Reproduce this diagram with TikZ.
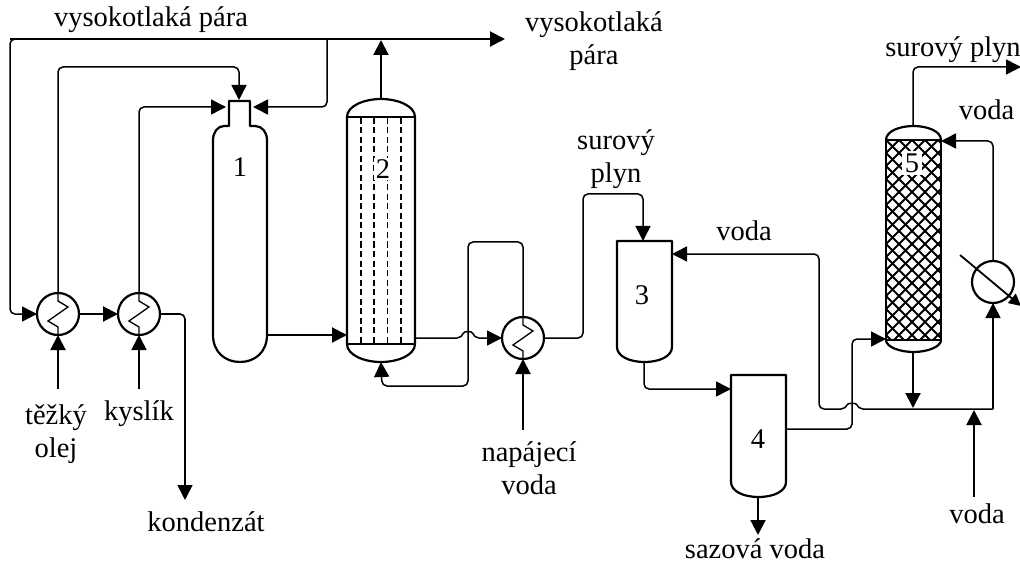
\documentclass[tikz,border=0pt]{standalone}
\usepackage{fontspec}
\setmainfont{Liberation Serif}
\usetikzlibrary{arrows.meta,calc}

\begin{document}
\begin{tikzpicture}[
    x=1pt,y=-1pt,
    every node/.style={font=\fontsize{28.5}{33}\selectfont,align=center,inner sep=0pt},
    wall/.style={line width=2.2pt,line join=round},
    flow/.style={line width=1.5pt,rounded corners=5pt},
    feed/.style={flow,line width=2pt,-{Triangle[length=15pt,width=15pt]}},
    pipe/.style={flow,-{Triangle[length=15pt,width=15pt]}},
    exchanger/.style={circle,draw,line width=2.2pt,minimum size=42pt,inner sep=0pt,outer sep=0pt}
]
\useasboundingbox (0,0) rectangle (1020,564);

% vessels
\draw[wall] (229,126) -- (229,101) -- (250,101) -- (250,126) -- (255,126)
  .. controls (262,126) and (267,132) .. (267,140) -- (267,335)
  .. controls (267,352) and (255,362) .. (240,362)
  .. controls (225,362) and (213,352) .. (213,335) -- (213,140)
  .. controls (213,132) and (218,126) .. (224,126) -- cycle;
\draw[wall] (347,117) .. controls (347,106) and (364,99) .. (381,99)
  .. controls (398,99) and (415,106) .. (415,117) -- (415,344)
  .. controls (415,355) and (398,362) .. (381,362)
  .. controls (364,362) and (347,355) .. (347,344) -- cycle;
\draw[wall] (347,117) -- (415,117) (347,344) -- (415,344);
\foreach \dashx in {361,374,387.5,401}
  \draw[line width=1.8pt,dash pattern=on 6pt off 3.5pt] (\dashx,118) -- (\dashx,343);
\draw[wall] (617,241) -- (672,241) -- (672,347)
  .. controls (672,356) and (660,362) .. (644.5,362)
  .. controls (629,362) and (617,356) .. (617,347) -- cycle;
\draw[wall] (731,375) -- (786,375) -- (786,482)
  .. controls (786,491) and (774,497) .. (758.5,497)
  .. controls (743,497) and (731,491) .. (731,482) -- cycle;

% packed column
\begin{scope}
\clip (886,140) rectangle (941,340);
\foreach \hatch in {-16,...,5} {
  \draw[line width=1.8pt] ({886+13*\hatch},140) -- ++(200,200);
}
\foreach \hatch in {0,...,20} {
  \draw[line width=1.8pt] ({886+13*\hatch},140) -- ++(-200,200);
}
\end{scope}
\draw[wall,line width=2.8pt] (886,140) rectangle (941,340);
\draw[wall] (886,140) .. controls (886,131) and (900,126) .. (913.5,126)
  .. controls (927,126) and (941,131) .. (941,140);
\draw[wall] (886,340) .. controls (886,347) and (900,352) .. (913.5,352)
  .. controls (927,352) and (941,347) .. (941,340);

% exchangers
\node[exchanger] (exch1) at (58,314) {};
\node[exchanger] (exch2) at (139,314) {};
\node[exchanger] (exch3) at (523,338) {};
\node[exchanger] (cooler) at (993,282) {};
\foreach \exch in {exch1,exch2,exch3}
  \draw[line width=1.3pt] (\exch.north) -- ++(0,8) -- ++(10,6) -- ++(-20,14) -- ++(10,6) -- (\exch.south);
\draw[line width=1.8pt,-{Triangle[length=12pt,width=12pt]}] (960,255) -- (1021,306);

% vessel numbers
\node (one) at (240,167) {1};
\node[fill=white,inner sep=2pt] (two) at (383,169) {2};
\node (three) at (642,295) {3};
\node (four) at (758,439) {4};
\node[fill=white,inner sep=3pt] (five) at (912,163) {5};

% labels
\node (hpleft) at (151,20) {vysokotlaká pára};
\node (hpright) at (594,41) {vysokotlaká\\pára};
\node (rawmid) at (616,159) {surový\\plyn};
\node (rawtop) at (953,50) {surový plyn};
\node (watertop) at (986.5,110) {voda};
\node (waterback) at (744,231) {voda};
\node (oil) at (56,434) {těžký\\olej};
\node (oxygen) at (139,414) {kyslík};
\node (condensate) at (206,522) {kondenzát};
\node (boiler) at (529,468) {napájecí\\voda};
\node (waterin) at (977,514) {voda};
\node (soot) at (755,549) {sazová voda};

% free ends and ports
\coordinate (steamend) at (505,39);
\coordinate (steamtap) at (327,39);
\coordinate (steamcorner) at (10,39);
\coordinate (ventone) at (253,107);
\coordinate (oxyone) at (226,107);
\coordinate (oilone) at (239,100);
\coordinate (onetwo) at (267,335);
\coordinate (twoin) at (347,335);
\coordinate (twoout) at (415,338);
\coordinate (twotop) at (381,99);
\coordinate (twoup) at (381,40);
\coordinate (twobot) at (381,362);
\coordinate (threetop) at (643,241);
\coordinate (threeside) at (672,254);
\coordinate (threebot) at (644,362);
\coordinate (fourin) at (731,389);
\coordinate (fourout) at (786,429);
\coordinate (fourbot) at (758,497);
\coordinate (fiveinlow) at (886,339);
\coordinate (fivetop) at (913,126);
\coordinate (fivebot) at (913,352);
\coordinate (fiveinhigh) at (941,141);
\coordinate (jointwater) at (913,408);
\coordinate (watercorner) at (993,409);

% connectors
\draw[feed] (steamcorner) -- (steamend);
\draw[pipe] (steamtap) -- (steamcorner) |- (exch1.west);
\draw[pipe] (steamtap) |- (ventone);
\draw[pipe] (exch1.north) |- (239,67) -- (oilone);
\draw[pipe] (exch2.north) |- (oxyone);
\draw[feed] (exch1.east) -- (exch2.west);
\draw[pipe,line width=1.6pt] (exch2.east) -| (185,500);
\draw[feed] (58,389) -- (exch1.south);
\draw[pipe,line width=1.6pt] (139,389) -- (exch2.south);
\draw[feed] (onetwo) -- (twoin);
\draw[feed] (twotop) -- (twoup);
\draw[pipe] (twoout) -- (462,338) .. controls (464,331) and (472,331) .. (474,338) -- (exch3.west);
\draw[pipe] (exch3.north) |- (468,242) |- (382,386) -- (twobot);
\draw[pipe] (exch3.east) -| (583,194) -| (threetop);
\draw[feed] (523,430) -- (exch3.south);
\draw[pipe] (threebot) |- (fourin);
\draw[feed] (fourbot) -- (758,535);
\draw[pipe] (fourout) -| (852,339) -- (fiveinlow);
\draw[pipe] (cooler.north) |- (fiveinhigh);
\draw[pipe] (fivetop) |- (1021,67);
\draw[feed] (fivebot) -- (jointwater);
\draw[pipe] (watercorner) -- (cooler.south);
\draw[pipe] (watercorner) -- (858,409) .. controls (856,403) and (848,403) .. (846,409)
  -- (819,409) -- (819,254) -- (threeside);
\draw[feed] (974,497) -- (974,410);
\end{tikzpicture}
\end{document}
